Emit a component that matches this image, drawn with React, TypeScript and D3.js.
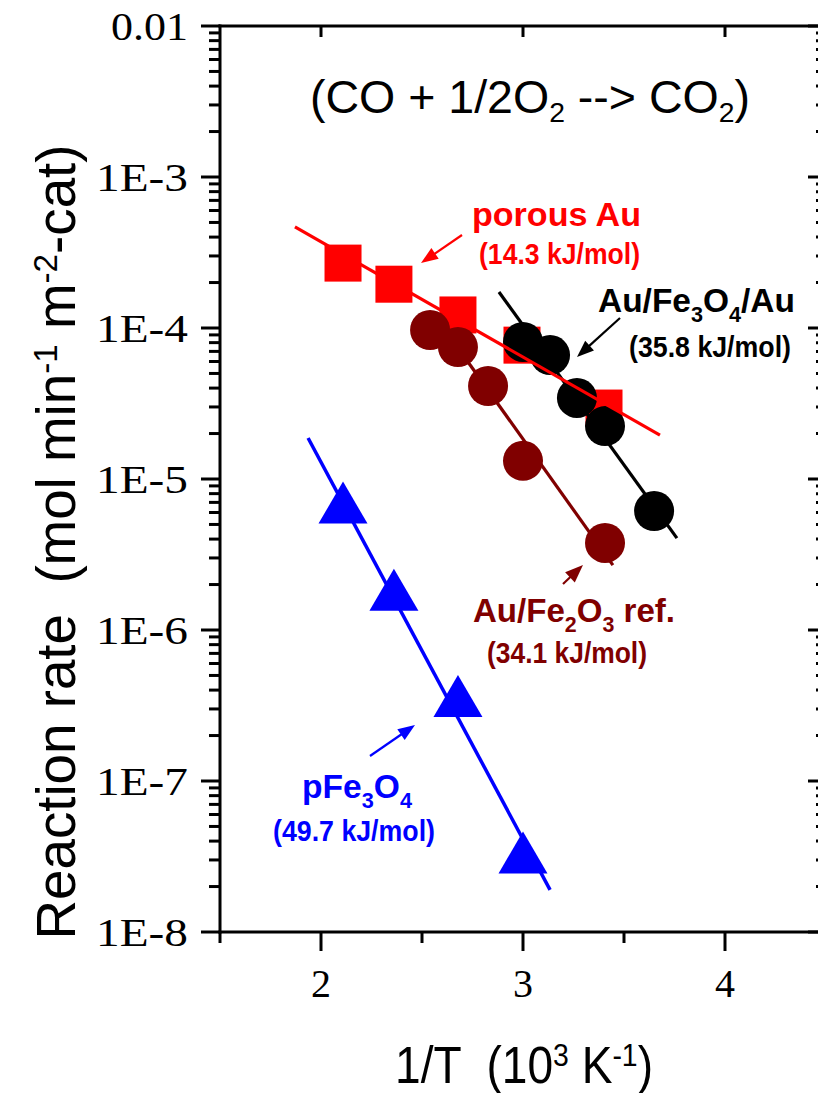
import React from 'react';
import * as d3 from 'd3';

// ---------- data ----------
const xDomain = [1.5, 4.5];
const yDomain = [1e-8, 1e-2];
const xMajorTicks = [2, 3, 4];
const xMinorTicks = [1.5, 2.5, 3.5];
const xTickLabels = ['2', '3', '4'];
const yMajorTicks = [1e-8, 1e-7, 1e-6, 1e-5, 1e-4, 1e-3, 1e-2];
const yTickLabels = ['1E-8', '1E-7', '1E-6', '1E-5', '1E-4', '1E-3', '0.01'];

// porous Au (red squares)
const porousAuX = [2.109, 2.361, 2.678, 2.995, 3.401];
const porousAuY = [2.69e-4, 1.95e-4, 1.22e-4, 7.7e-5, 2.95e-5];
const porousAuFitX = [1.871, 3.678];
const porousAuFitY = [4.67e-4, 1.95e-5];

// Au/Fe3O4/Au (black circles)
const auFe3O4AuX = [3.0, 3.134, 3.267, 3.406, 3.649];
const auFe3O4AuY = [8.08e-5, 6.62e-5, 3.44e-5, 2.24e-5, 6.14e-6];
const auFe3O4AuFitX = [2.881, 3.762];
const auFe3O4AuFitY = [1.73e-4, 4.06e-6];

// Au/Fe2O3 ref. (dark red circles)
const auFe2O3X = [2.54, 2.678, 2.827, 3.0, 3.406];
const auFe2O3Y = [9.7e-5, 7.48e-5, 4.13e-5, 1.32e-5, 3.77e-6];
const auFe2O3FitX = [2.65, 3.445];
const auFe2O3FitY = [8.33e-5, 2.69e-6];

// pFe3O4 (blue triangles)
const pFe3O4X = [2.109, 2.361, 2.678, 3.0];
const pFe3O4Y = [6.98e-6, 1.85e-6, 3.65e-7, 3.36e-8];
const pFe3O4FitX = [1.936, 3.134];
const pFe3O4FitY = [1.87e-5, 1.9e-8];

// ---------- layout ----------
const W = 818;
const H = 1093;
const L = 220, R = 826, T = 26, B = 932;
const SANS = '"Liberation Sans", Arial, sans-serif';
const SERIF = '"Liberation Serif", "Times New Roman", serif';
const RED = '#FF0000';
const DARKRED = '#800000';
const BLUE = '#0000FF';

type Seg = { t: string; s?: 'sub' | 'sup' };

function Rich(props: {
  x: number; y: number; fs: number; segs: Seg[]; anchor?: string; fill?: string;
  weight?: string | number; len?: number; sfs?: number; sdy?: number; transform?: string;
}) {
  const { x, y, fs, segs, anchor = 'start', fill = '#000', weight = 'normal', len, transform } = props;
  const sfs = props.sfs ?? fs * 0.62;
  const sdy = props.sdy ?? fs * 0.3;
  let cur = 0;
  const spans = segs.map((sg, i) => {
    const target = sg.s === 'sub' ? sdy : sg.s === 'sup' ? -sdy * 1.4 : 0;
    const dy = target - cur;
    cur = target;
    return (
      <tspan key={i} dy={dy || undefined} fontSize={sg.s ? sfs : fs}>{sg.t}</tspan>
    );
  });
  return (
    <text x={x} y={y} fontSize={fs} fontFamily={SANS} fontWeight={weight} fill={fill}
      textAnchor={anchor} transform={transform} style={{ whiteSpace: 'pre' }}
      {...(len ? { textLength: len, lengthAdjust: 'spacingAndGlyphs' } : {})}>
      {spans}
    </text>
  );
}

function Arrow({ x1, y1, x2, y2, color, w = 2.2, hl = 17, hw = 6.5 }: any) {
  const dx = x2 - x1, dy = y2 - y1;
  const d = Math.hypot(dx, dy);
  const ux = dx / d, uy = dy / d;
  const bx = x2 - ux * hl, by = y2 - uy * hl;
  const px = -uy * hw, py = ux * hw;
  return (
    <g>
      <line x1={x1} y1={y1} x2={bx + ux * 2} y2={by + uy * 2} stroke={color} strokeWidth={w} />
      <path d={`M${x2},${y2}L${bx + px},${by + py}L${bx - px},${by - py}Z`} fill={color} />
    </g>
  );
}

export default function App() {
  const x = d3.scaleLinear().domain(xDomain).range([L, R]);
  const y = d3.scaleLog().domain(yDomain).range([B, T]);
  const line = d3.line<[number, number]>().x(d => x(d[0])).y(d => y(d[1]));
  const zip = (a: number[], b: number[]) => a.map((v, i) => [v, b[i]] as [number, number]);

  const yMinor = y.ticks().filter(v => !yMajorTicks.some(m => Math.abs(Math.log10(v) - Math.log10(m)) < 1e-6));

  const sq = 37;
  const cr = 20;
  const triPath = 'M0,-21L24.5,21L-24.5,21Z';

  const tickW = 3;

  return (
    <svg width={W} height={H} style={{ position: 'absolute', left: 0, top: 0, display: 'block', background: '#fff' }}>
      <rect x={0} y={0} width={W} height={H} fill="#fff" />

      {/* markers */}
      {zip(porousAuX, porousAuY).map((d, i) => (
        <rect key={'s' + i} x={x(d[0]) - sq / 2} y={y(d[1]) - sq / 2} width={sq} height={sq} fill={RED} />
      ))}
      {zip(auFe2O3X, auFe2O3Y).map((d, i) => (
        <circle key={'d' + i} cx={x(d[0])} cy={y(d[1])} r={cr} fill={DARKRED} />
      ))}
      {zip(auFe3O4AuX, auFe3O4AuY).map((d, i) => (
        <circle key={'b' + i} cx={x(d[0])} cy={y(d[1])} r={cr} fill="#000" />
      ))}
      {zip(pFe3O4X, pFe3O4Y).map((d, i) => (
        <path key={'t' + i} d={triPath} transform={`translate(${x(d[0])},${y(d[1])})`} fill={BLUE} />
      ))}

      {/* fit lines */}
      <path d={line(zip(pFe3O4FitX, pFe3O4FitY)) || ''} stroke={BLUE} strokeWidth={3.5} fill="none" />
      <path d={line(zip(auFe2O3FitX, auFe2O3FitY)) || ''} stroke={DARKRED} strokeWidth={3.2} fill="none" />
      <path d={line(zip(auFe3O4AuFitX, auFe3O4AuFitY)) || ''} stroke="#000" strokeWidth={3.2} fill="none" />
      <path d={line(zip(porousAuFitX, porousAuFitY)) || ''} stroke={RED} strokeWidth={3.2} fill="none" />

      {/* axes frame */}
      <g stroke="#000" strokeWidth={tickW}>
        <line x1={L} y1={T - 1.5} x2={L} y2={B + 1.5} />
        <line x1={R} y1={T - 1.5} x2={R} y2={B + 1.5} />
        <line x1={L - 1.5} y1={B} x2={R} y2={B} />
        <line x1={L - 1.5} y1={T} x2={R} y2={T} />
        {yMajorTicks.map((v, i) => (
          <line key={'yl' + i} x1={L - 19} x2={L} y1={y(v)} y2={y(v)} />
        ))}
        {yMinor.map((v, i) => (
          <line key={'ym' + i} x1={L - 11} x2={L} y1={y(v)} y2={y(v)} />
        ))}
        {yMajorTicks.map((v, i) => (
          <line key={'yr' + i} x1={R - 18} x2={R} y1={y(v)} y2={y(v)} />
        ))}
        {yMinor.map((v, i) => (
          <line key={'yrm' + i} x1={R - 10} x2={R} y1={y(v)} y2={y(v)} />
        ))}
        {xMajorTicks.map((v, i) => (
          <line key={'xb' + i} x1={x(v)} x2={x(v)} y1={B} y2={B + 19} />
        ))}
        {xMinorTicks.map((v, i) => (
          <line key={'xbm' + i} x1={x(v)} x2={x(v)} y1={B} y2={B + 11} />
        ))}
        {xMajorTicks.map((v, i) => (
          <line key={'xt' + i} x1={x(v)} x2={x(v)} y1={T} y2={T + 11} />
        ))}
      </g>

      {/* tick labels */}
      {yMajorTicks.map((v, i) => (
        <text key={'yt' + i} x={188} y={y(v) + 14} fontFamily={SERIF} fontSize={40} textAnchor="end"
          textLength={yTickLabels[i][0] === '0' ? 77 : 92} lengthAdjust="spacingAndGlyphs">
          {yTickLabels[i]}
        </text>
      ))}
      {xMajorTicks.map((v, i) => (
        <text key={'xtl' + i} x={x(v)} y={997} fontFamily={SERIF} fontSize={40} textAnchor="middle">
          {xTickLabels[i]}
        </text>
      ))}

      {/* axis titles */}
      <Rich x={524} y={1083} fs={52} anchor="middle" len={258} sfs={32} sdy={12}
        segs={[{ t: '1/T  (10' }, { t: '3', s: 'sup' }, { t: ' K' }, { t: '-1', s: 'sup' }, { t: ')' }]} />
      <Rich x={0} y={0} fs={56} anchor="middle" len={795} sfs={34} sdy={13}
        transform={`translate(75,542) rotate(-90)`}
        segs={[{ t: 'Reaction rate  (mol min' }, { t: '-1', s: 'sup' }, { t: ' m' }, { t: '-2', s: 'sup' }, { t: '-cat)' }]} />

      {/* reaction */}
      <Rich x={530} y={113} fs={46} anchor="middle" len={440} sfs={28} sdy={9}
        segs={[{ t: '(CO + 1/2O' }, { t: '2', s: 'sub' }, { t: ' --> CO' }, { t: '2', s: 'sub' }, { t: ')' }]} />

      {/* annotations */}
      <Rich x={472} y={226} fs={34} weight="bold" fill={RED} len={169} segs={[{ t: 'porous Au' }]} />
      <Rich x={479} y={264} fs={29} weight="bold" fill={RED} len={161} segs={[{ t: '(14.3 kJ/mol)' }]} />
      <Arrow x1={462} y1={235} x2={421} y2={263} color={RED} />

      <Rich x={598} y={312} fs={34} weight="bold" fill="#000" len={197} sfs={22} sdy={10}
        segs={[{ t: 'Au/Fe' }, { t: '3', s: 'sub' }, { t: 'O' }, { t: '4', s: 'sub' }, { t: '/Au' }]} />
      <Rich x={629} y={357} fs={29} weight="bold" fill="#000" len={162} segs={[{ t: '(35.8 kJ/mol)' }]} />
      <Arrow x1={620} y1={318} x2={577} y2={357} color="#000" />

      <Rich x={473} y={622} fs={34} weight="bold" fill={DARKRED} len={202} sfs={22} sdy={10}
        segs={[{ t: 'Au/Fe' }, { t: '2', s: 'sub' }, { t: 'O' }, { t: '3', s: 'sub' }, { t: ' ref.' }]} />
      <Rich x={487} y={663} fs={29} weight="bold" fill={DARKRED} len={160} segs={[{ t: '(34.1 kJ/mol)' }]} />
      <Arrow x1={563} y1={584} x2={583} y2={565} color={DARKRED} hl={18} hw={7} />

      <Rich x={302} y={798} fs={34} weight="bold" fill={BLUE} len={110} sfs={22} sdy={10}
        segs={[{ t: 'pFe' }, { t: '3', s: 'sub' }, { t: 'O' }, { t: '4', s: 'sub' }]} />
      <Rich x={273} y={841} fs={29} weight="bold" fill={BLUE} len={162} segs={[{ t: '(49.7 kJ/mol)' }]} />
      <Arrow x1={370} y1={756} x2={415} y2={725} color={BLUE} />
    </svg>
  );
}
